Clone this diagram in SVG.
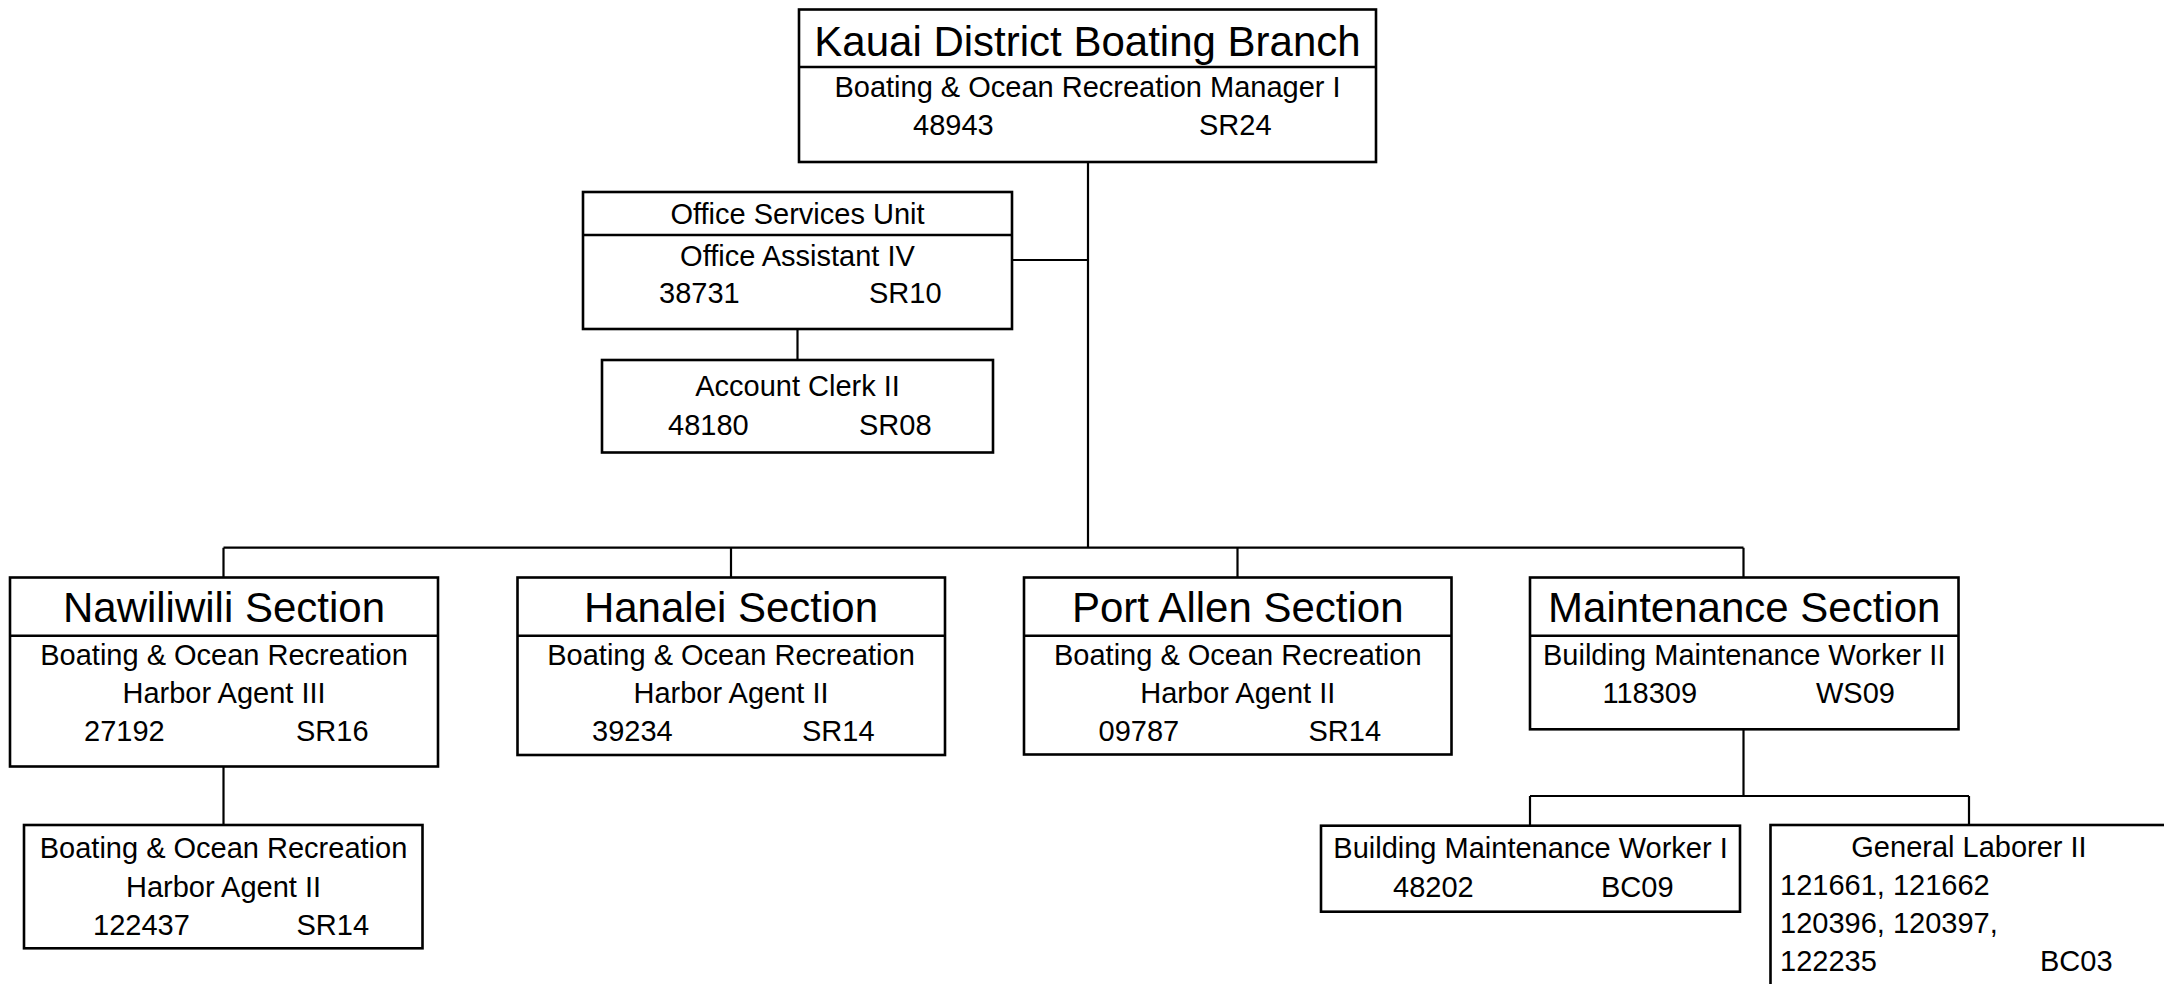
<svg xmlns="http://www.w3.org/2000/svg" width="2164" height="984" viewBox="0 0 2164 984">
<style>
.box{fill:#ffffff;stroke:#000000;stroke-width:2.6}
.div{stroke:#000000;stroke-width:2.6}
.con{fill:none;stroke:#000000;stroke-width:2.2}
text{font-family:"Liberation Sans",Arial,sans-serif;fill:#000000}
.t{font-size:42px;text-anchor:middle}
.s{font-size:29px;text-anchor:middle}
.n{font-size:29px}
</style>
<rect width="2164" height="984" fill="#ffffff"/>
<g id="connectors">
<path class="con" d="M1088,162V547.7"/>
<path class="con" d="M1012,260H1088"/>
<path class="con" d="M797.5,329V360"/>
<path class="con" d="M223.5,547.7H1743.5"/>
<path class="con" d="M223.5,547.7V577.5M731,547.7V577.5M1237.5,547.7V577.5M1743.5,547.7V577.5"/>
<path class="con" d="M223.5,766.5V825"/>
<path class="con" d="M1743.5,729.3V796"/>
<path class="con" d="M1530,796H1969"/>
<path class="con" d="M1530,796V825.7M1969,796V825"/>
</g>
<g id="kauai-branch">
<rect class="box" x="799" y="9.5" width="577" height="152.5"/>
<line class="div" x1="799" y1="67" x2="1376" y2="67"/>
<text class="t" x="1087.5" y="56">Kauai District Boating Branch</text>
<text class="s" x="1087.5" y="97">Boating &amp; Ocean Recreation Manager I</text>
<text class="n" x="913" y="135">48943</text>
<text class="n" x="1199" y="135">SR24</text>
</g>
<g id="office-services">
<rect class="box" x="583" y="192" width="429" height="137"/>
<line class="div" x1="583" y1="235" x2="1012" y2="235"/>
<text class="s" x="797.5" y="224">Office Services Unit</text>
<text class="s" x="797.5" y="266">Office Assistant IV</text>
<text class="n" x="659" y="303">38731</text>
<text class="n" x="869" y="303">SR10</text>
</g>
<g id="account-clerk">
<rect class="box" x="602" y="360" width="391" height="92.5"/>
<text class="s" x="797.5" y="396">Account Clerk II</text>
<text class="n" x="668" y="435">48180</text>
<text class="n" x="859" y="435">SR08</text>
</g>
<g id="nawiliwili">
<rect class="box" x="10" y="577.5" width="428" height="189"/>
<line class="div" x1="10" y1="635.7" x2="438" y2="635.7"/>
<text class="t" x="224" y="622">Nawiliwili Section</text>
<text class="s" x="224" y="665">Boating &amp; Ocean Recreation</text>
<text class="s" x="224" y="703">Harbor Agent III</text>
<text class="n" x="84" y="741">27192</text>
<text class="n" x="296" y="741">SR16</text>
</g>
<g id="hanalei">
<rect class="box" x="517.5" y="577.5" width="427.5" height="177.5"/>
<line class="div" x1="517.5" y1="635.7" x2="945" y2="635.7"/>
<text class="t" x="731" y="622">Hanalei Section</text>
<text class="s" x="731" y="665">Boating &amp; Ocean Recreation</text>
<text class="s" x="731" y="703">Harbor Agent II</text>
<text class="n" x="592" y="741">39234</text>
<text class="n" x="802" y="741">SR14</text>
</g>
<g id="port-allen">
<rect class="box" x="1024" y="577.5" width="427.5" height="177"/>
<line class="div" x1="1024" y1="635.7" x2="1451.5" y2="635.7"/>
<text class="t" x="1237.75" y="622">Port Allen Section</text>
<text class="s" x="1237.75" y="665">Boating &amp; Ocean Recreation</text>
<text class="s" x="1237.75" y="703">Harbor Agent II</text>
<text class="n" x="1098.5" y="741">09787</text>
<text class="n" x="1308.5" y="741">SR14</text>
</g>
<g id="maintenance">
<rect class="box" x="1530" y="577.5" width="428.5" height="151.8"/>
<line class="div" x1="1530" y1="635.7" x2="1958.5" y2="635.7"/>
<text class="t" x="1744.25" y="622">Maintenance Section</text>
<text class="s" x="1744.25" y="665">Building Maintenance Worker II</text>
<text class="n" x="1602.5" y="703">118309</text>
<text class="n" x="1816" y="703">WS09</text>
</g>
<g id="harbor-agent-ii-nawiliwili">
<rect class="box" x="24" y="825" width="398.5" height="123.3"/>
<text class="s" x="223.5" y="858">Boating &amp; Ocean Recreation</text>
<text class="s" x="223.5" y="896.5">Harbor Agent II</text>
<text class="n" x="93" y="935">122437</text>
<text class="n" x="296.5" y="935">SR14</text>
</g>
<g id="bmw-i">
<rect class="box" x="1321" y="825.7" width="419" height="86"/>
<text class="s" x="1530.5" y="858.3">Building Maintenance Worker I</text>
<text class="n" x="1393" y="897">48202</text>
<text class="n" x="1601" y="897">BC09</text>
</g>
<g id="general-laborer">
<rect class="box" x="1770.5" y="825" width="400" height="200"/>
<text class="s" x="1969" y="857">General Laborer II</text>
<text class="n" x="1780" y="895">121661, 121662</text>
<text class="n" x="1780" y="933">120396, 120397,</text>
<text class="n" x="1780" y="971">122235</text>
<text class="n" x="2040" y="971">BC03</text>
</g>
</svg>
